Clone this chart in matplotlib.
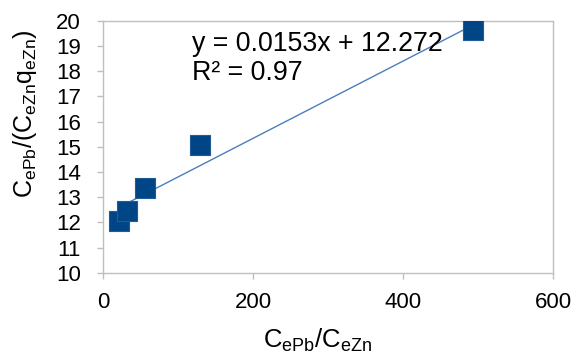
import matplotlib
matplotlib.use("Agg")
import matplotlib.pyplot as plt
import numpy as np

plt.rcParams['font.family'] = ['Liberation Sans', 'DejaVu Sans']
plt.rcParams['mathtext.fontset'] = 'custom'
plt.rcParams['mathtext.rm'] = 'Liberation Sans'
plt.rcParams['mathtext.it'] = 'Liberation Sans'

x_vals = [21, 32, 56, 130, 493]
y_vals = [12.06, 12.45, 13.35, 15.06, 19.62]
slope = 0.0153
intercept = 12.272
r2 = 0.97
x_ticks = [0, 200, 400, 600]
y_ticks = [10, 11, 12, 13, 14, 15, 16, 17, 18, 19, 20]

fig = plt.figure(figsize=(5.76, 3.6), dpi=100)
ax = fig.add_axes([0.1788, 0.2417, 0.7812, 0.7013])

xs = np.array([min(x_vals), max(x_vals)])
ax.plot(xs, slope * xs + intercept, color='#4a7ebb', lw=1.0, zorder=2)
ax.scatter(x_vals, y_vals, marker='s', s=200, color='#004586', edgecolors='#1f5a99',
           linewidths=0.8, zorder=3)

ax.set_xlim(0, 600)
ax.set_ylim(10, 20)
ax.set_xticks(x_ticks)
ax.set_yticks(y_ticks)
for s in ax.spines.values():
    s.set_color('#bfbfbf')
    s.set_linewidth(1.0)
ax.tick_params(axis='both', direction='out', length=4.5, width=1.0, color='#bfbfbf',
               labelsize=16, labelcolor='black')
ax.tick_params(axis='y', pad=11.5)
ax.tick_params(axis='x', pad=9.5)

# axis titles (offset from axis centres as in the reference)
fig.text(318 / 576, 1 - 348 / 360, r'$\mathrm{C_{ePb}/C_{eZn}}$', fontsize=18.5,
         ha='center', va='baseline')
fig.text(25 / 576, 1 - 114 / 360, r'$\mathrm{C_{ePb}/(C_{eZn}q_{eZn})}$', fontsize=18,
         ha='center', va='center', rotation=90)

fig.text(192 / 576, 1 - 44 / 360, 'y = 0.0153x + 12.272', fontsize=19.3,
         va='center', ha='left')
fig.text(192 / 576, 1 - 73 / 360, 'R² = 0.97', fontsize=19.3,
         va='center', ha='left')

fig.savefig('out.png', dpi=100)
